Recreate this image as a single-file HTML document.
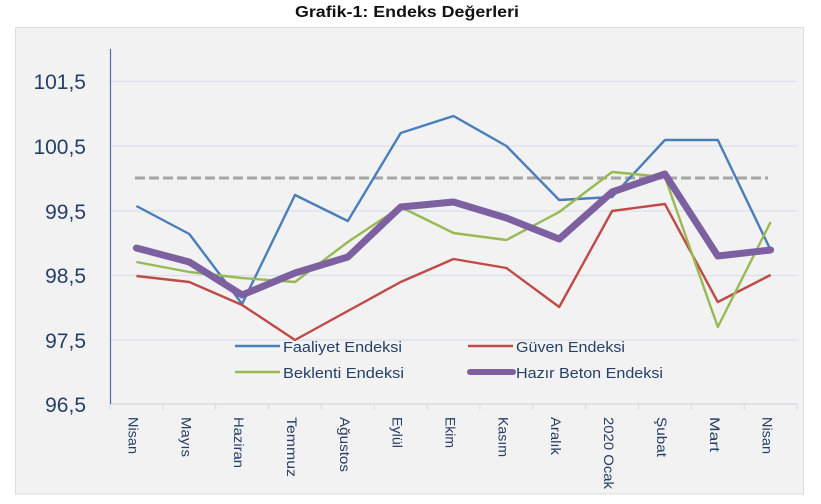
<!DOCTYPE html>
<html><head><meta charset="utf-8"><style>
html,body{margin:0;padding:0;background:#fff;}
svg{display:block;}
text{font-family:"Liberation Sans",sans-serif;}
</style></head><body>
<svg width="821" height="504" viewBox="0 0 821 504" xmlns="http://www.w3.org/2000/svg">
<rect x="0" y="0" width="821" height="504" fill="#fff"/>
<text x="407" y="17" text-anchor="middle" font-size="16" font-weight="bold" fill="#111" textLength="224" lengthAdjust="spacingAndGlyphs">Grafik-1: Endeks Değerleri</text>
<rect x="15.5" y="27.5" width="788" height="466.5" fill="#f2f2f2" stroke="#d9dee6" stroke-width="1"/>
<!-- gridlines -->
<g stroke="#d8e0ea" stroke-width="1.2">
<line x1="110" y1="81.5" x2="797" y2="81.5"/>
<line x1="110" y1="146" x2="797" y2="146"/>
<line x1="110" y1="211" x2="797" y2="211"/>
<line x1="110" y1="275.5" x2="797" y2="275.5"/>
<line x1="110" y1="340" x2="797" y2="340"/>
</g>
<!-- x axis -->
<line x1="110" y1="404" x2="797" y2="404" stroke="#d4d8dd" stroke-width="1.2"/>
<g stroke="#d4d8dd" stroke-width="1">
<line x1="110" y1="404" x2="110" y2="410"/><line x1="162.85" y1="404" x2="162.85" y2="410"/><line x1="215.7" y1="404" x2="215.7" y2="410"/><line x1="268.55" y1="404" x2="268.55" y2="410"/><line x1="321.4" y1="404" x2="321.4" y2="410"/><line x1="374.25" y1="404" x2="374.25" y2="410"/><line x1="427.1" y1="404" x2="427.1" y2="410"/><line x1="479.95" y1="404" x2="479.95" y2="410"/><line x1="532.8" y1="404" x2="532.8" y2="410"/><line x1="585.65" y1="404" x2="585.65" y2="410"/><line x1="638.5" y1="404" x2="638.5" y2="410"/><line x1="691.35" y1="404" x2="691.35" y2="410"/><line x1="744.2" y1="404" x2="744.2" y2="410"/><line x1="797" y1="404" x2="797" y2="410"/>
</g>
<!-- y axis -->
<line x1="110.5" y1="49" x2="110.5" y2="404" stroke="#4a6fa5" stroke-width="1.2"/>
<g font-size="21" fill="#253f66" text-anchor="end">
<text x="86" y="89">101,5</text>
<text x="86" y="154">100,5</text>
<text x="86" y="219">99,5</text>
<text x="86" y="283">98,5</text>
<text x="86" y="348">97,5</text>
<text x="86" y="412">96,5</text>
</g>
<!-- x labels -->
<g font-size="14" fill="#253f66">
<text transform="translate(128.4,417) rotate(90)" textLength="37" lengthAdjust="spacingAndGlyphs">Nisan</text>
<text transform="translate(181.3,417) rotate(90)" textLength="40" lengthAdjust="spacingAndGlyphs">Mayıs</text>
<text transform="translate(234.1,417) rotate(90)" textLength="51" lengthAdjust="spacingAndGlyphs">Haziran</text>
<text transform="translate(287,417) rotate(90)" textLength="60" lengthAdjust="spacingAndGlyphs">Temmuz</text>
<text transform="translate(339.8,417) rotate(90)" textLength="55" lengthAdjust="spacingAndGlyphs">Ağustos</text>
<text transform="translate(392.7,417) rotate(90)" textLength="31" lengthAdjust="spacingAndGlyphs">Eylül</text>
<text transform="translate(445.5,417) rotate(90)" textLength="31" lengthAdjust="spacingAndGlyphs">Ekim</text>
<text transform="translate(498.4,417) rotate(90)" textLength="40" lengthAdjust="spacingAndGlyphs">Kasım</text>
<text transform="translate(551.2,417) rotate(90)" textLength="38" lengthAdjust="spacingAndGlyphs">Aralık</text>
<text transform="translate(604.1,417) rotate(90)" textLength="72" lengthAdjust="spacingAndGlyphs">2020 Ocak</text>
<text transform="translate(656.9,417) rotate(90)" textLength="40" lengthAdjust="spacingAndGlyphs">Şubat</text>
<text transform="translate(709.8,417) rotate(90)" textLength="35" lengthAdjust="spacingAndGlyphs">Mart</text>
<text transform="translate(762.6,417) rotate(90)" textLength="37" lengthAdjust="spacingAndGlyphs">Nisan</text>
</g>
<!-- dashed 100 line -->
<line x1="135" y1="178" x2="768" y2="178" stroke="#a6a6a6" stroke-width="3" stroke-dasharray="10,4"/>
<!-- series -->
<g fill="none" stroke-linejoin="round">
<polyline stroke="#4a7ebb" stroke-width="2.4" points="136.4,206 189.3,234 242.1,304 295,195 347.8,221 400.7,133 453.5,116 506.4,146 559.2,200 612.1,197 664.9,140 717.8,140 770.6,250"/>
<polyline stroke="#be4b48" stroke-width="2.4" points="136.4,276 189.3,282 242.1,305 295,340 347.8,311 400.7,282 453.5,259 506.4,268 559.2,307 612.1,211 664.9,204 717.8,302 770.6,275"/>
<polyline stroke="#98b954" stroke-width="2.4" points="136.4,262 189.3,272 242.1,278 295,282 347.8,242 400.7,207 453.5,233 506.4,240 559.2,212 612.1,172 664.9,177 717.8,327 770.6,222"/>
<polyline stroke="#7d60a0" stroke-width="7" stroke-linecap="round" points="136.4,248 189.3,262 242.1,295 295,273 347.8,257 400.7,207 453.5,202 506.4,218 559.2,239 612.1,192 664.9,174 717.8,256 770.6,250"/>
</g>
<!-- legend -->
<line x1="235" y1="346" x2="280" y2="346" stroke="#4a7ebb" stroke-width="2.4"/>
<line x1="468" y1="346" x2="513" y2="346" stroke="#be4b48" stroke-width="2.4"/>
<line x1="235" y1="372" x2="280" y2="372" stroke="#98b954" stroke-width="2.4"/>
<line x1="470" y1="372" x2="513" y2="372" stroke="#7d60a0" stroke-width="6" stroke-linecap="round"/>
<g font-size="15" fill="#253f66">
<text x="283" y="352" textLength="119" lengthAdjust="spacingAndGlyphs">Faaliyet Endeksi</text>
<text x="516" y="352" textLength="109" lengthAdjust="spacingAndGlyphs">Güven Endeksi</text>
<text x="283" y="378" textLength="121" lengthAdjust="spacingAndGlyphs">Beklenti Endeksi</text>
<text x="516" y="378" textLength="147" lengthAdjust="spacingAndGlyphs">Hazır Beton Endeksi</text>
</g>
</svg>
</body></html>
